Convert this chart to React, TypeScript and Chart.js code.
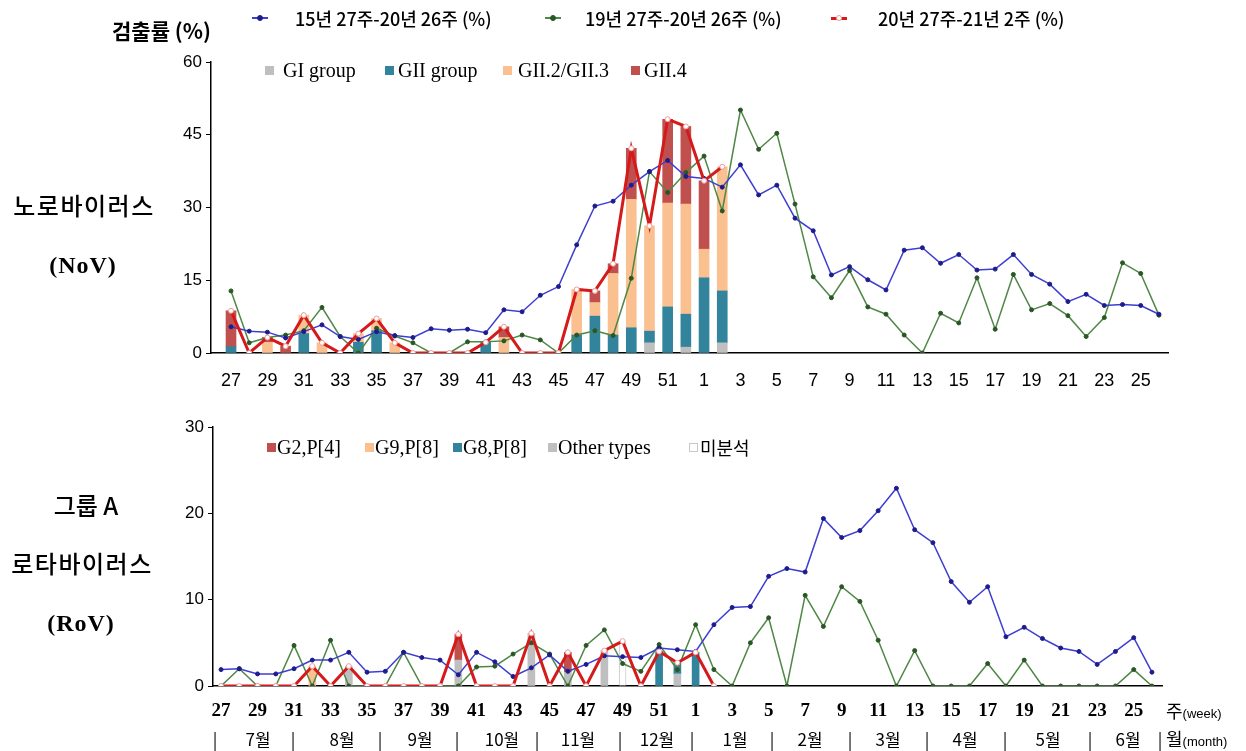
import React, { useEffect, useRef } from 'react';
import { Chart, registerables } from 'chart.js';

Chart.register(...registerables);

// ---------- categories ----------
const weekLabels = [
  '27', '28', '29', '30', '31', '32', '33', '34', '35', '36', '37', '38', '39', '40', '41', '42', '43',
  '44', '45', '46', '47', '48', '49', '50', '51', '52',
  '1', '2', '3', '4', '5', '6', '7', '8', '9', '10', '11', '12', '13', '14', '15', '16', '17', '18',
  '19', '20', '21', '22', '23', '24', '25', '26',
];
const weekTickIndex = weekLabels.map((_, i) => i).filter((i) => i % 2 === 0 && i <= 50);
const monthLabels = ['7월', '8월', '9월', '10월', '11월', '12월', '1월', '2월', '3월', '4월', '5월', '6월'];
const topYTicks = [0, 15, 30, 45, 60];
const botYTicks = [0, 10, 20, 30];

// ---------- Norovirus (NoV) ----------
const novAvg5y = [
  5.4, 4.5, 4.3, 3.1, 4.4, 5.8, 3.4, 2.8, 4.4, 3.6, 3.2, 5.0, 4.7, 4.9, 4.2, 8.9, 8.5, 11.9, 13.7, 22.3,
  30.3, 31.3, 34.6, 37.4, 39.7, 36.4, 36.0, 34.2, 38.8, 32.6, 34.6, 27.8, 25.2, 16.1, 17.8, 15.1, 13.0,
  21.2, 21.7, 18.5, 20.3, 17.1, 17.3, 20.3, 16.2, 14.2, 10.6, 12.1, 9.8, 10.0, 9.8, 8.0,
];
const novPrevSeason = [
  12.8, 2.1, 3.2, 3.7, 4.6, 9.4, 3.4, 0, 5.1, 3.5, 2.1, 0, 0, 2.3, 2.3, 2.5, 3.7, 2.7, 0, 3.7, 4.6, 3.6,
  15.4, 37.4, 33.1, 37.2, 40.6, 29.3, 50.1, 42.0, 45.3, 30.7, 15.7, 11.4, 17.0, 9.5, 8.0, 3.7, 0, 8.2,
  6.2, 15.5, 4.9, 16.2, 8.9, 10.2, 7.7, 3.4, 7.3, 18.6, 16.4, 7.8,
];
const novCurrent = [
  8.7, 0, 3.2, 1.4, 7.8, 2.1, 0, 4.0, 7.1, 2.1, 0, 0, 0, 0, 2.2, 5.4, 0, 0, 0, 13.1, 12.8, 18.4, 42.2,
  26.2, 48.2, 46.7, 35.5, 38.4,
];
const novGI = [0, 0, 0, 0, 0, 0, 0, 0, 0, 0, 0, 0, 0, 0, 0, 0, 0, 0, 0, 0, 0, 0, 0, 2.1, 0, 1.2, 0, 2.1];
const novGII = [1.3, 0, 0, 0, 4.0, 0, 0, 2.2, 4.6, 0, 0, 0, 0, 0, 2.2, 0, 0, 0, 0, 3.7, 7.6, 3.7, 5.2, 2.4, 9.5, 6.8, 15.5, 10.7];
const novGII23 = [0, 0, 2.2, 0, 3.8, 2.1, 0, 1.8, 2.5, 2.1, 0, 0, 0, 0, 0, 3.2, 0, 0, 0, 9.4, 2.8, 12.7, 26.5, 21.7, 21.4, 22.7, 5.9, 25.6];
const novGII4 = [7.4, 0, 1.0, 1.4, 0, 0, 0, 0, 0, 0, 0, 0, 0, 0, 0, 2.2, 0, 0, 0, 0, 2.4, 2.0, 10.5, 0, 17.3, 16.0, 14.1, 0];

// ---------- Group A Rotavirus (RoV) ----------
const rovAvg5y = [
  1.9, 2.0, 1.4, 1.4, 2.0, 3.0, 3.0, 3.9, 1.6, 1.7, 3.9, 3.3, 3.0, 1.3, 3.9, 2.8, 1.1, 2.1, 3.6, 1.7,
  2.5, 3.5, 3.4, 3.3, 4.4, 4.2, 4.0, 7.1, 9.1, 9.2, 12.7, 13.6, 13.2, 19.4, 17.2, 18.0, 20.3, 22.9,
  18.1, 16.6, 12.1, 9.7, 11.5, 5.7, 6.8, 5.5, 4.4, 4.0, 2.5, 4.0, 5.6, 1.6,
];
const rovPrevSeason = [
  0, 2.0, 0, 0, 4.7, 0, 5.3, 0, 0, 0, 3.9, 0, 0, 0, 2.2, 2.3, 3.7, 5.0, 3.7, 0, 4.7, 6.5, 2.6, 1.7, 4.8,
  1.9, 7.1, 1.9, 0, 5.0, 7.9, 0, 10.5, 6.9, 11.5, 9.8, 5.3, 0, 4.1, 0, 0, 0, 2.6, 0, 3.0, 0, 0, 0, 0,
  0, 1.9, 0,
];
const rovCurrent = [
  0, 0, 0, 0, 0, 2.3, 0, 2.3, 0, 0, 0, 0, 0, 6.0, 0, 0, 0, 6.1, 0, 3.9, 0, 4.1, 5.2, 0, 4.0, 2.7, 3.9, 0,
];
const rovG2P4 = [0, 0, 0, 0, 0, 0, 0, 0, 0, 0, 0, 0, 0, 3.0, 0, 0, 0, 0, 0, 2.3, 0, 0, 0, 0, 0, 0, 0, 0];
const rovG9P8 = [0, 0, 0, 0, 0, 2.3, 0, 0, 0, 0, 0, 0, 0, 0, 0, 0, 0, 0, 0, 0, 0, 0, 0, 0, 0, 0, 0, 0];
const rovG8P8 = [0, 0, 0, 0, 0, 0, 0, 0, 0, 0, 0, 0, 0, 0, 0, 0, 0, 0, 0, 0, 0, 0, 0, 0, 4.0, 1.3, 3.9, 0];
const rovOther = [0, 0, 0, 0, 0, 0, 0, 2.3, 0, 0, 0, 0, 0, 3.0, 0, 0, 0, 6.1, 0, 1.6, 0, 4.1, 0, 0, 0, 1.4, 0, 0];
const rovUnanalyzed = [0, 0, 0, 0, 0, 0, 0, 0, 0, 0, 0, 0, 0, 0, 0, 0, 0, 0, 0, 0, 0, 0, 5.2, 0, 0, 0, 0, 0];

// ---------- series labels ----------
const lineNames = ['15년 27주-20년 26주 (%)', '19년 27주-20년 26주 (%)', '20년 27주-21년 2주 (%)'];
const novBarNames = ['GI group', 'GII group', 'GII.2/GII.3', 'GII.4'];
const rovBarNames = ['G2,P[4]', 'G9,P[8]', 'G8,P[8]', 'Other types', '미분석'];

// ---------- styles ----------
const C_BLUE = '#3e3ed0';
const C_BLUE_PT = '#1c1c8c';
const C_GREEN = '#4f8745';
const C_GREEN_PT = '#2a5626';
const C_RED = '#d41a1a';
const C_GRAY = '#bfbfbf';
const C_TEAL = '#31849b';
const C_PEACH = '#fac08f';
const C_BROWN = '#c0504d';
const KR = '"Noto Sans CJK KR", "Noto Sans", sans-serif';
const SERIF = '"Liberation Serif", "DejaVu Serif", serif';
const SANS = '"Liberation Sans", Arial, sans-serif';

function lineDs(label: string, values: number[], color: string, width: number, ptBg: string, ptBorder: string, radius: number, stack: string) {
  return {
    type: 'line' as const,
    label,
    data: values.map((y, x) => ({ x, y })),
    borderColor: color,
    backgroundColor: ptBg,
    borderWidth: width,
    pointRadius: radius,
    pointBackgroundColor: ptBg,
    pointBorderColor: ptBorder,
    pointBorderWidth: 1,
    tension: 0,
    fill: false,
    stack,
  };
}

function barDs(label: string, values: number[], color: string, thickness: number, border?: string) {
  return {
    type: 'bar' as const,
    label,
    data: values.map((y, x) => ({ x, y })).filter((p) => p.y > 0),
    backgroundColor: color,
    borderColor: border || color,
    borderWidth: border ? 1 : 0,
    barThickness: thickness,
    stack: 'bars',
  };
}

function weekAxis(min: number, max: number, font: any, padding: number, height: number) {
  return {
    type: 'linear',
    min,
    max,
    offset: false,
    stacked: true,
    grid: { display: false, drawTicks: false, offset: false },
    border: { display: true, color: '#000', width: 1.5 },
    ticks: {
      autoSkip: false,
      maxRotation: 0,
      minRotation: 0,
      padding,
      color: '#000',
      font,
      callback: (v: any) => weekLabels[v] ?? '',
    },
    afterBuildTicks: (s: any) => {
      s.ticks = weekTickIndex.map((v) => ({ value: v }));
    },
    afterFit: (s: any) => {
      s.height = height;
    },
  };
}

function valueAxis(ticks: number[], width: number) {
  return {
    min: ticks[0],
    max: ticks[ticks.length - 1],
    stacked: true,
    grid: { display: true, drawOnChartArea: false, drawTicks: true, tickLength: 5, color: '#000', lineWidth: 1 },
    border: { display: true, color: '#000', width: 1.5 },
    ticks: { padding: 4, color: '#000', font: { family: SANS, size: 17 } },
    afterBuildTicks: (s: any) => {
      s.ticks = ticks.map((v) => ({ value: v }));
    },
    afterFit: (s: any) => {
      s.width = width;
    },
  };
}

function baseOptions(padding: any, x: any, y: any) {
  return {
    responsive: false,
    animation: false,
    layout: { padding },
    plugins: { legend: { display: false }, tooltip: { enabled: false } },
    events: [],
    scales: { x, y },
  };
}

function topConfig(): any {
  return {
    type: 'bar',
    data: {
      datasets: [
        lineDs(lineNames[2], novCurrent, C_RED, 3, '#ffffff', '#f29a9a', 2.5, 'l3'),
        lineDs(lineNames[0], novAvg5y, C_BLUE, 1.5, C_BLUE_PT, C_BLUE_PT, 2, 'l1'),
        lineDs(lineNames[1], novPrevSeason, C_GREEN, 1.5, C_GREEN_PT, C_GREEN_PT, 2, 'l2'),
        barDs(novBarNames[0], novGI, C_GRAY, 10),
        barDs(novBarNames[1], novGII, C_TEAL, 10),
        barDs(novBarNames[2], novGII23, C_PEACH, 10),
        barDs(novBarNames[3], novGII4, C_BROWN, 10),
      ],
    },
    options: baseOptions(
      { left: 0, right: 78, top: 22, bottom: 0 },
      weekAxis(-1.1, 51.5, { family: SANS, size: 18 }, 17, 57),
      valueAxis(topYTicks, 211)
    ),
  };
}

function botConfig(): any {
  return {
    type: 'bar',
    data: {
      datasets: [
        lineDs(lineNames[2], rovCurrent, C_RED, 3, '#ffffff', '#f29a9a', 2.5, 'l3'),
        lineDs(lineNames[0], rovAvg5y, C_BLUE, 1.5, C_BLUE_PT, C_BLUE_PT, 2, 'l1'),
        lineDs(lineNames[1], rovPrevSeason, C_GREEN, 1.5, C_GREEN_PT, C_GREEN_PT, 2, 'l2'),
        barDs(rovBarNames[3], rovOther, C_GRAY, 7),
        barDs(rovBarNames[4], rovUnanalyzed, '#ffffff', 7, '#c8c8c8'),
        barDs(rovBarNames[2], rovG8P8, C_TEAL, 7),
        barDs(rovBarNames[1], rovG9P8, C_PEACH, 7),
        barDs(rovBarNames[0], rovG2P4, C_BROWN, 7),
      ],
    },
    options: baseOptions(
      { left: 0, right: 84, top: 27, bottom: 0 },
      weekAxis(-0.44, 51.55, { family: SERIF, size: 19, weight: 'bold' }, 14, 65),
      valueAxis(botYTicks, 213)
    ),
  };
}

// ---------- small HTML helpers ----------
function Txt(props: { x: number; y: number; size: number; family: string; weight?: any; center?: boolean; ls?: number; children: any }) {
  const { x, y, size, family, weight, center, ls, children } = props;
  return (
    <div
      style={{
        position: 'absolute',
        left: x,
        top: y,
        transform: `translate(${center ? '-50%' : '0'}, -50%)`,
        fontSize: size,
        fontFamily: family,
        fontWeight: weight ?? 400,
        letterSpacing: ls ?? 0,
        lineHeight: 1.15,
        whiteSpace: 'nowrap',
        color: '#000',
      }}
    >
      {children}
    </div>
  );
}

function LineSwatch(props: { x: number; y: number; color: string; pt: string; ptBorder: string; w: number }) {
  const { x, y, color, pt, ptBorder, w } = props;
  return (
    <>
      <div style={{ position: 'absolute', left: x, top: y - w / 2, width: 16, height: w, background: color }} />
      <div
        style={{
          position: 'absolute',
          left: x + 5,
          top: y - 3,
          width: 6,
          height: 6,
          boxSizing: 'border-box',
          borderRadius: 3,
          background: pt,
          border: `1px solid ${ptBorder}`,
        }}
      />
    </>
  );
}

function Square(props: { x: number; y: number; color: string; border?: string }) {
  const { x, y, color, border } = props;
  return (
    <div
      style={{
        position: 'absolute',
        left: x - 4,
        top: y - 4,
        width: 9,
        height: 9,
        boxSizing: 'border-box',
        background: color,
        border: border ? `1px solid ${border}` : 'none',
      }}
    />
  );
}

const monthCenters = [258, 342, 420, 502, 578, 657, 735, 810, 888, 965, 1048, 1128];
const monthSeps = [215, 293, 380, 457, 537, 620, 692, 772, 850, 927, 1005, 1090, 1160];

export default function App() {
  const topRef = useRef<HTMLCanvasElement>(null);
  const botRef = useRef<HTMLCanvasElement>(null);

  useEffect(() => {
    const c1 = new Chart(topRef.current as HTMLCanvasElement, topConfig());
    const c2 = new Chart(botRef.current as HTMLCanvasElement, botConfig());
    return () => {
      c1.destroy();
      c2.destroy();
    };
  }, []);

  return (
    <div style={{ position: 'fixed', left: 0, top: 0, width: 1246, height: 751, background: '#fff', overflow: 'hidden' }}>
      <canvas ref={topRef} width={1246} height={370} style={{ position: 'absolute', left: 0, top: 40, width: 1246, height: 370 }} />
      <canvas ref={botRef} width={1246} height={351} style={{ position: 'absolute', left: 0, top: 400, width: 1246, height: 351 }} />

      {/* axis title */}
      <Txt x={112} y={30} size={21} family={KR} weight={700}>검출률 (%)</Txt>

      {/* line legend */}
      <LineSwatch x={252} y={18} color={C_BLUE} pt={C_BLUE_PT} ptBorder={C_BLUE_PT} w={1.5} />
      <Txt x={295} y={18} size={18} family={KR} weight={500}>{lineNames[0]}</Txt>
      <LineSwatch x={545} y={18} color={C_GREEN} pt={C_GREEN_PT} ptBorder={C_GREEN_PT} w={1.5} />
      <Txt x={585} y={18} size={18} family={KR} weight={500}>{lineNames[1]}</Txt>
      <LineSwatch x={831} y={18} color={C_RED} pt="#ffffff" ptBorder="#f29a9a" w={3} />
      <Txt x={878} y={18} size={18} family={KR} weight={500}>{lineNames[2]}</Txt>

      {/* NoV bar legend */}
      <Square x={269} y={70} color={C_GRAY} />
      <Txt x={283} y={70} size={20} family={SERIF}>{novBarNames[0]}</Txt>
      <Square x={389} y={70} color={C_TEAL} />
      <Txt x={398} y={70} size={20} family={SERIF}>{novBarNames[1]}</Txt>
      <Square x={507} y={70} color={C_PEACH} />
      <Txt x={518} y={70} size={20} family={SERIF}>{novBarNames[2]}</Txt>
      <Square x={635} y={70} color={C_BROWN} />
      <Txt x={644} y={70} size={20} family={SERIF}>{novBarNames[3]}</Txt>

      {/* RoV bar legend */}
      <Square x={271} y={447} color={C_BROWN} />
      <Txt x={277} y={447} size={20} family={SERIF}>{rovBarNames[0]}</Txt>
      <Square x={369} y={447} color={C_PEACH} />
      <Txt x={375} y={447} size={20} family={SERIF}>{rovBarNames[1]}</Txt>
      <Square x={457} y={447} color={C_TEAL} />
      <Txt x={463} y={447} size={20} family={SERIF}>{rovBarNames[2]}</Txt>
      <Square x={552} y={447} color={C_GRAY} />
      <Txt x={558} y={447} size={20} family={SERIF}>{rovBarNames[3]}</Txt>
      <Square x={693} y={447} color="#ffffff" border="#c8c8c8" />
      <Txt x={700} y={447} size={18} family={KR}>{rovBarNames[4]}</Txt>

      {/* left titles */}
      <Txt x={84} y={205} size={24} family={KR} weight={500} ls={1.5} center>노로바이러스</Txt>
      <Txt x={83} y={266} size={24} family={SERIF} weight={700} ls={1} center>(NoV)</Txt>
      <Txt x={86} y={505} size={24} family={KR} weight={500} center>그룹 A</Txt>
      <Txt x={82} y={563} size={24} family={KR} weight={500} ls={1.5} center>로타바이러스</Txt>
      <Txt x={81} y={624} size={24} family={SERIF} weight={700} ls={1} center>(RoV)</Txt>

      {/* week unit */}
      <Txt x={1166} y={711} size={18} family={KR}>
        주<span style={{ fontSize: 13, fontFamily: SANS }}>(week)</span>
      </Txt>

      {/* month row */}
      {monthSeps.map((x, i) => (
        <Txt key={'s' + i} x={x} y={739} size={17} family={KR} center>|</Txt>
      ))}
      {monthLabels.map((m, i) => (
        <Txt key={'m' + i} x={monthCenters[i]} y={739} size={17} family={KR} center>{m}</Txt>
      ))}
      <Txt x={1166} y={739} size={18} family={KR}>
        월<span style={{ fontSize: 13, fontFamily: SANS }}>(month)</span>
      </Txt>
    </div>
  );
}
